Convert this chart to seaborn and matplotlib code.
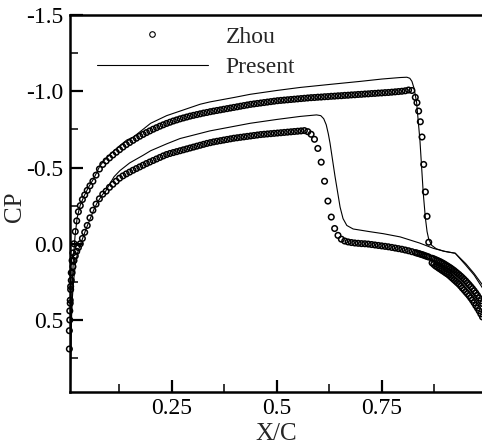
import matplotlib
matplotlib.use("Agg")
import matplotlib.pyplot as plt
from matplotlib.lines import Line2D
import seaborn as sns
import pandas as pd

# ---------------- data ----------------
zhou_x = [0.0065, 0.0075, 0.0085, 0.0095, 0.011, 0.013, 0.015, 0.0175, 0.0205, 0.024,
          0.028, 0.0325, 0.0375, 0.043, 0.049, 0.0555, 0.0625, 0.070, 0.078, 0.086,
          0.094, 0.102, 0.110, 0.118, 0.126, 0.134, 0.142, 0.150, 0.158, 0.166,
          0.174, 0.182, 0.190, 0.198, 0.206, 0.214, 0.222, 0.230, 0.238, 0.246,
          0.254, 0.262, 0.270, 0.278, 0.286, 0.294, 0.302, 0.310, 0.318, 0.326,
          0.334, 0.342, 0.350, 0.358, 0.366, 0.374, 0.382, 0.390, 0.398, 0.406,
          0.414, 0.422, 0.430, 0.438, 0.446, 0.454, 0.462, 0.470, 0.478, 0.486,
          0.494, 0.502, 0.510, 0.518, 0.526, 0.534, 0.542, 0.550, 0.558, 0.566,
          0.574, 0.582, 0.590, 0.598, 0.606, 0.614, 0.622, 0.630, 0.638, 0.646,
          0.654, 0.662, 0.670, 0.678, 0.686, 0.694, 0.702, 0.710, 0.718, 0.726,
          0.734, 0.742, 0.750, 0.758, 0.766, 0.774, 0.782, 0.790, 0.798, 0.806,
          0.814, 0.822, 0.830, 0.834, 0.838, 0.842, 0.846, 0.850, 0.854, 0.858,
          0.862,
          0.870, 0.874, 0.878, 0.882, 0.886, 0.890, 0.894, 0.898, 0.902, 0.906,
          0.910, 0.914, 0.918, 0.922, 0.926, 0.930, 0.934, 0.938, 0.942, 0.946,
          0.950, 0.954, 0.958, 0.962, 0.966, 0.970, 0.974, 0.978, 0.982, 0.986,
          0.990]

zhou_cp_upper = [0.69, 0.50, 0.39, 0.28, 0.19, 0.11, 0.06, 0.00, -0.08, -0.15,
                 -0.21, -0.25, -0.29, -0.32, -0.35, -0.38, -0.41, -0.45, -0.49, -0.52,
                 -0.543, -0.563, -0.582, -0.600, -0.617, -0.634, -0.650, -0.664, -0.678, -0.692,
                 -0.705, -0.717, -0.729, -0.740, -0.751, -0.761, -0.771, -0.780, -0.789, -0.797,
                 -0.805, -0.812, -0.819, -0.825, -0.831, -0.837, -0.842, -0.847, -0.852, -0.857,
                 -0.861, -0.866, -0.870, -0.874, -0.878, -0.882, -0.886, -0.890, -0.894, -0.898,
                 -0.902, -0.906, -0.910, -0.914, -0.917, -0.920, -0.923, -0.926, -0.929, -0.932,
                 -0.935, -0.938, -0.940, -0.942, -0.944, -0.946, -0.948, -0.950, -0.952, -0.954,
                 -0.956, -0.958, -0.959, -0.961, -0.962, -0.964, -0.965, -0.967, -0.968, -0.970,
                 -0.971, -0.973, -0.974, -0.976, -0.977, -0.979, -0.980, -0.982, -0.983, -0.985,
                 -0.986, -0.988, -0.989, -0.991, -0.992, -0.994, -0.996, -0.998, -1.000, -1.003,
                 -1.008, -1.005, -0.960, -0.925, -0.870, -0.800, -0.700, -0.520, -0.340, -0.180,
                 -0.010,
                 0.125, 0.135, 0.145, 0.152, 0.160, 0.167, 0.175, 0.182, 0.190, 0.197,
                 0.205, 0.215, 0.225, 0.235, 0.245, 0.255, 0.265, 0.277, 0.290, 0.302,
                 0.315, 0.327, 0.340, 0.355, 0.370, 0.387, 0.405, 0.422, 0.440, 0.460,
                 0.480]

zhou_cp_lower = [0.57, 0.44, 0.37, 0.30, 0.24, 0.19, 0.15, 0.11, 0.08, 0.05,
                 0.025, 0.00, -0.035, -0.075, -0.12, -0.17, -0.22, -0.26, -0.295, -0.325,
                 -0.345, -0.370, -0.390, -0.410, -0.430, -0.445, -0.458, -0.470, -0.482, -0.493,
                 -0.504, -0.515, -0.526, -0.536, -0.546, -0.556, -0.566, -0.576, -0.585, -0.592,
                 -0.598, -0.604, -0.610, -0.616, -0.622, -0.628, -0.634, -0.640, -0.646, -0.652,
                 -0.658, -0.663, -0.668, -0.672, -0.676, -0.680, -0.684, -0.688, -0.692, -0.695,
                 -0.698, -0.701, -0.704, -0.707, -0.710, -0.713, -0.716, -0.718, -0.720, -0.722,
                 -0.724, -0.726, -0.728, -0.730, -0.732, -0.734, -0.736, -0.738, -0.740, -0.742,
                 -0.735, -0.718, -0.685, -0.625, -0.535, -0.410, -0.280, -0.175, -0.100, -0.055,
                 -0.030, -0.018, -0.012, -0.008, -0.005, -0.003, -0.001, 0.000, 0.002, 0.005,
                 0.008, 0.011, 0.014, 0.017, 0.020, 0.024, 0.028, 0.032, 0.036, 0.041,
                 0.046, 0.052, 0.058, 0.061, 0.064, 0.068, 0.071, 0.075, 0.079, 0.083,
                 0.087,
                 0.095, 0.099, 0.104, 0.109, 0.114, 0.119, 0.125, 0.131, 0.138, 0.145,
                 0.152, 0.159, 0.167, 0.175, 0.184, 0.193, 0.202, 0.212, 0.222, 0.233,
                 0.244, 0.256, 0.268, 0.281, 0.294, 0.308, 0.323, 0.339, 0.356, 0.374,
                 0.392]

present_x_upper = [0.009, 0.0095, 0.0105, 0.012, 0.014, 0.0165, 0.020, 0.025, 0.032, 0.041,
                   0.052, 0.065, 0.079, 0.092, 0.105, 0.125, 0.143, 0.159, 0.200, 0.238,
                   0.270, 0.318, 0.341, 0.400, 0.437, 0.500, 0.556, 0.627, 0.700, 0.750,
                   0.794, 0.810, 0.817, 0.822, 0.827, 0.833, 0.841, 0.849, 0.854, 0.858,
                   0.862, 0.869, 0.880, 0.897, 0.912, 0.925, 0.950, 0.970, 0.990]
present_cp_upper = [0.98, 0.75, 0.55, 0.38, 0.22, 0.08, -0.05, -0.17, -0.25, -0.31,
                    -0.37, -0.43, -0.51, -0.555, -0.59, -0.64, -0.68, -0.70, -0.79, -0.84,
                    -0.87, -0.915, -0.93, -0.96, -0.98, -1.005, -1.025, -1.045, -1.065, -1.08,
                    -1.09, -1.092, -1.085, -1.065, -1.02, -0.93, -0.68, -0.33, -0.17, -0.08,
                    -0.03, 0.01, 0.033, 0.048, 0.056, 0.062, 0.14, 0.205, 0.29]

present_x_lower = [0.009, 0.0095, 0.0105, 0.012, 0.014, 0.017, 0.021, 0.026, 0.032, 0.040,
                   0.048, 0.057, 0.065, 0.073, 0.080, 0.086, 0.092, 0.100, 0.113, 0.127,
                   0.150, 0.182, 0.200, 0.238, 0.270, 0.341, 0.437, 0.500, 0.556, 0.595,
                   0.605, 0.612, 0.618, 0.623, 0.627, 0.633, 0.639, 0.645, 0.651, 0.658,
                   0.667, 0.682, 0.720, 0.754, 0.794, 0.840, 0.873, 0.900, 0.925, 0.950,
                   0.970, 0.990]
present_cp_lower = [0.98, 0.80, 0.62, 0.46, 0.34, 0.23, 0.13, 0.06, 0.01, -0.05,
                    -0.11, -0.17, -0.225, -0.27, -0.30, -0.325, -0.34, -0.38, -0.44, -0.48,
                    -0.53, -0.58, -0.61, -0.655, -0.69, -0.74, -0.79, -0.815, -0.835, -0.845,
                    -0.84, -0.82, -0.78, -0.72, -0.66, -0.55, -0.44, -0.34, -0.24, -0.165,
                    -0.12, -0.097, -0.08, -0.066, -0.045, -0.005, 0.03, 0.05, 0.062, 0.13,
                    0.195, 0.27]

x_major_ticks = [0.25, 0.5, 0.75]
x_major_labels = ["0.25", "0.5", "0.75"]
x_minor_ticks = [0.125, 0.375, 0.625, 0.875]
y_major_ticks = [-1.5, -1.0, -0.5, 0.0, 0.5]
y_major_labels = ["-1.5", "-1.0", "-0.5", "0.0", "0.5"]
y_minor_ticks = [-1.25, -0.75, -0.25, 0.25, 0.75]

legend_labels = ["Zhou", "Present"]

# ---------------- build tables ----------------
zhou_df = pd.DataFrame({
    "x": zhou_x + zhou_x,
    "cp": zhou_cp_upper + zhou_cp_lower,
    "surface": ["upper"] * len(zhou_x) + ["lower"] * len(zhou_x),
})
present_df = pd.DataFrame({
    "x": present_x_upper + present_x_lower,
    "cp": present_cp_upper + present_cp_lower,
    "surface": ["upper"] * len(present_x_upper) + ["lower"] * len(present_x_lower),
})

# ---------------- figure ----------------
sns.set_style("ticks")
plt.rcParams["font.family"] = ["Liberation Serif", "DejaVu Serif"]

W, H = 482, 445
fig = plt.figure(figsize=(W / 100, H / 100), dpi=100)
ax_left, ax_right, ax_top, ax_bottom = 70, 486.7, 15, 392
ax = fig.add_axes([ax_left / W, 1 - ax_bottom / H, (ax_right - ax_left) / W, (ax_bottom - ax_top) / H])

for surf in ["upper", "lower"]:
    sub = present_df[present_df["surface"] == surf]
    sns.lineplot(data=sub, x="x", y="cp", sort=False, estimator=None, color="black",
                 linewidth=0.8, ax=ax, legend=False)

sns.scatterplot(data=zhou_df, x="x", y="cp", marker="o", s=16, facecolors="none",
                edgecolor="black", linewidth=1.1, ax=ax, legend=False, clip_on=False, zorder=3)

ax.set_xlim(0.008, 1.0)
ax.set_ylim(0.972, -1.5)

ax.set_xticks(x_major_ticks)
ax.set_xticklabels(x_major_labels)
ax.set_xticks(x_minor_ticks, minor=True)
ax.set_yticks(y_major_ticks)
ax.set_yticklabels(y_major_labels)
ax.set_yticks(y_minor_ticks, minor=True)

fs = 17
ax.tick_params(axis="both", which="major", direction="in", length=9, width=1.6,
               labelsize=fs, colors="black", pad=5)
ax.tick_params(axis="both", which="minor", direction="in", length=5.5, width=1.1,
               colors="black")
ax.tick_params(axis="x", which="major", pad=4)

for side in ["left", "bottom", "top"]:
    ax.spines[side].set_linewidth(1.8)
    ax.spines[side].set_color("black")
ax.spines["right"].set_visible(False)

ax.set_xlabel("X/C", fontsize=fs + 1)
ax.set_ylabel("CP", fontsize=fs + 1)
ax.xaxis.set_label_coords((276.7 - ax_left) / (ax_right - ax_left), -(434 - ax_bottom) / (ax_bottom - ax_top))
ax.xaxis.label.set_va("center")
ax.yaxis.set_label_coords(-(ax_left - 15) / (ax_right - ax_left), (ax_bottom - 207) / (ax_bottom - ax_top))
ax.yaxis.label.set_va("center")

handles = [
    Line2D([], [], linestyle="none", marker="o", markersize=4, markerfacecolor="none",
           markeredgecolor="black", markeredgewidth=0.8),
    Line2D([], [], color="black", linewidth=0.8),
]
leg = ax.legend(handles, legend_labels, loc="upper left",
                bbox_to_anchor=(97 / W, 1 - 26 / H), bbox_transform=fig.transFigure,
                frameon=False, fontsize=fs, handlelength=4.7, handletextpad=0.75,
                labelspacing=0.37, borderpad=0, borderaxespad=0)

fig.savefig("out.png", dpi=100)
